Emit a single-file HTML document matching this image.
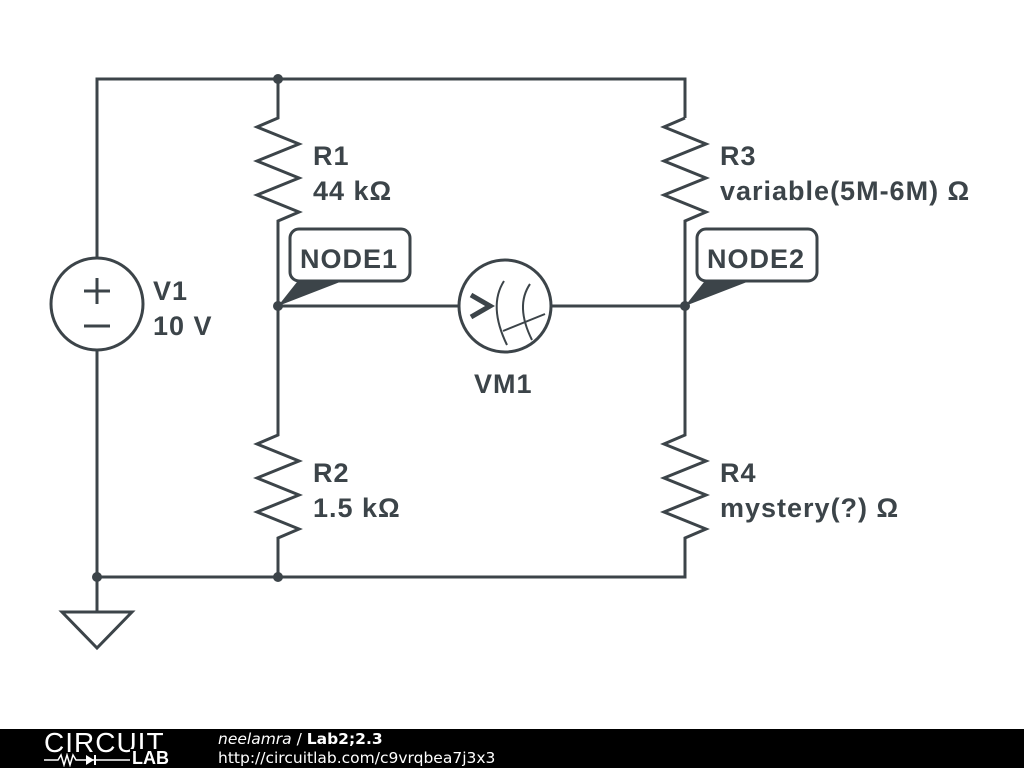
<!DOCTYPE html>
<html><head><style>
body{margin:0;width:1024px;height:768px;background:#fff;overflow:hidden;position:relative;font-family:"Liberation Sans",sans-serif}
svg{position:absolute;left:0;top:0}
.foot{position:absolute;left:0;top:729px;width:1024px;height:39px;background:#000;}
</style></head><body>
<svg width="1024" height="768" viewBox="0 0 1024 768">
<g stroke="#3c4449" stroke-width="3" fill="none" stroke-linejoin="miter">
<polyline points="97,258 97,79 685,79 685,118"/>
<polyline points="97,350 97,612"/>
<polyline points="97,577 685,577 685,540"/>
<polyline points="278,79 278,118 257,127 299,144 257,161 299,178 257,195 299,212 278,221 278,435 257,444 299,461 257,478 299,495 257,512 299,529 278,538 278,577"/>
<polyline points="685,118 664,127 706,144 664,161 706,178 664,195 706,212 685,221 685,435 664,444 706,461 664,478 706,495 664,512 706,529 685,538 685,577"/>
<line x1="278" y1="306" x2="459" y2="306"/>
<line x1="551" y1="306" x2="685" y2="306"/>
<circle cx="97" cy="304" r="46"/>
<line x1="84" y1="291" x2="110" y2="291"/><line x1="97" y1="278" x2="97" y2="304"/>
<line x1="84" y1="326" x2="110" y2="326"/>
<circle cx="505" cy="306" r="46"/>
<polyline points="471,295 490,306 471,317" stroke-width="5"/>
<path d="M504,281 Q488,306 507,345" stroke-width="2"/>
<path d="M530,284 Q515,306 532,340" stroke-width="2"/>
<line x1="503" y1="331" x2="545" y2="314" stroke-width="2"/>
<polygon points="62,612 132,612 97,648"/>
<rect x="290" y="229" width="120" height="52" rx="9"/>
<rect x="697" y="229" width="120" height="52" rx="9"/>
</g>
<g fill="#3c4449">
<circle cx="278" cy="79" r="5"/><circle cx="278" cy="306" r="5"/><circle cx="685" cy="306" r="5"/>
<circle cx="97" cy="577" r="5"/><circle cx="278" cy="577" r="5"/>
<polygon points="278,306 297,282 340,282"/>
<polygon points="685,306 704,282 747,282"/>
</g>
<g fill="#3c4449" font-weight="bold" font-size="27" letter-spacing="1" font-family="Liberation Sans,sans-serif">
<text x="313" y="165">R1</text><text x="313" y="200">44 kΩ</text>
<text x="313" y="482">R2</text><text x="313" y="517">1.5 kΩ</text>
<text x="720" y="165">R3</text><text x="720" y="200">variable(5M-6M) Ω</text>
<text x="720" y="482">R4</text><text x="720" y="517">mystery(?) Ω</text>
<text x="153" y="300">V1</text><text x="153" y="335">10 V</text>
<text x="474" y="393">VM1</text>
<text x="300" y="268">NODE1</text><text x="707" y="268">NODE2</text>
</g>
</svg>
<div class="foot">
<div style="position:absolute;left:44px;top:-1px;color:#fff;font-size:28px;letter-spacing:1px;line-height:30px">CIRCUIT</div>
<svg style="position:absolute;left:44px;top:24px" width="90" height="14"><polyline points="0,7 14,7 17,2 20,12 23,2 26,12 29,2 32,7 52,7" stroke="#fff" stroke-width="1.5" fill="none"/><polygon points="42,2 42,12 50,7" fill="#fff"/><line x1="51" y1="2" x2="51" y2="12" stroke="#fff" stroke-width="2"/><line x1="52" y1="7" x2="86" y2="7" stroke="#fff" stroke-width="1.5"/></svg>
<div style="position:absolute;left:130px;top:20px;color:#fff;font-size:18px;font-weight:bold;line-height:18px;background:#000;padding-left:2px">LAB</div>
<div style="position:absolute;left:218px;top:1px;color:#fff;font-size:15.5px;font-family:'DejaVu Sans',sans-serif"><i>neelamra</i> / <b>Lab2;2.3</b></div>
<div style="position:absolute;left:218px;top:20px;color:#fff;font-size:15.5px;font-family:'DejaVu Sans',sans-serif">http://circuitlab.com/c9vrqbea7j3x3</div>
</div>
</body></html>
